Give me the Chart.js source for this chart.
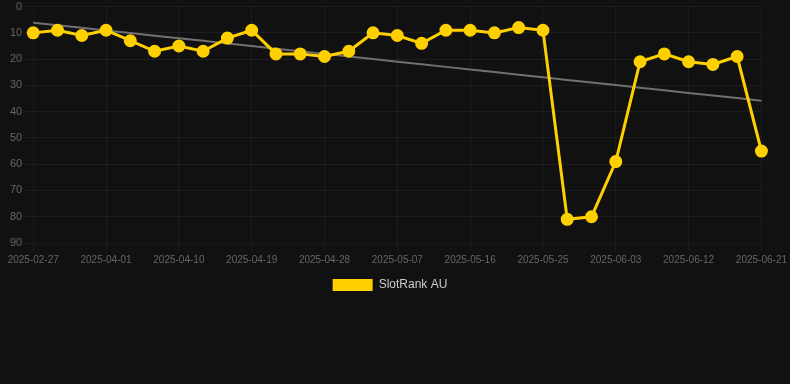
<!DOCTYPE html>
<html>
<head>
<meta charset="utf-8">
<script src="https://cdn.jsdelivr.net/npm/chart.js@4/dist/chart.umd.min.js"></script>
<style>
  html, body { margin: 0; padding: 0; background: #111111; overflow: hidden; }
  #wrap { width: 790px; height: 304px; margin-top: -3px; position: relative; }
</style>
</head>
<body>
<div id="wrap"><canvas id="rankChart"></canvas></div>
<script>
const labels = [
  "2025-02-27", "2025-03-26", "2025-03-29", "2025-04-01", "2025-04-04",
  "2025-04-07", "2025-04-10", "2025-04-13", "2025-04-16", "2025-04-19",
  "2025-04-22", "2025-04-25", "2025-04-28", "2025-05-01", "2025-05-04",
  "2025-05-07", "2025-05-10", "2025-05-13", "2025-05-16", "2025-05-19",
  "2025-05-22", "2025-05-25", "2025-05-28", "2025-05-31", "2025-06-03",
  "2025-06-06", "2025-06-09", "2025-06-12", "2025-06-15", "2025-06-18",
  "2025-06-21"
];
const ranks = [
  10, 9, 11, 9, 13, 17, 15, 17, 12, 9,
  18, 18, 19, 17, 10, 11, 14, 9, 9, 10,
  8, 9, 81, 80, 59, 21, 18, 21, 22, 19,
  55
];
const seriesName = "SlotRank AU";

// least squares trend over the ranks
function trend(values) {
  const n = values.length;
  let sx = 0, sy = 0, sxy = 0, sxx = 0;
  values.forEach((v, i) => { sx += i; sy += v; sxy += i * v; sxx += i * i; });
  const slope = (n * sxy - sx * sy) / (n * sxx - sx * sx);
  const icpt = (sy - slope * sx) / n;
  return values.map((v, i) => icpt + slope * i);
}

const ctx = document.getElementById("rankChart").getContext("2d");
new Chart(ctx, {
  type: "line",
  data: {
    labels: labels,
    datasets: [
      {
        label: seriesName,
        data: ranks,
        borderColor: "#ffd000",
        backgroundColor: "#ffd000",
        borderWidth: 3,
        pointRadius: 5,
        pointHoverRadius: 6,
        tension: 0,
      },
      {
        label: "trend",
        data: trend(ranks),
        borderColor: "#707070",
        borderWidth: 2,
        pointRadius: 0,
        tension: 0,
      },
    ],
  },
  options: {
    responsive: true,
    maintainAspectRatio: false,
    animation: false,
    layout: { padding: { left: 7, right: 17, top: 0 } },
    plugins: {
      legend: {
        position: "bottom",
        labels: {
          color: "#cccccc",
          font: { size: 12, family: "Arial, Liberation Sans, sans-serif" },
          boxWidth: 40,
          boxHeight: 12,
          filter: (item) => item.text !== "trend",
          generateLabels: (chart) =>
            Chart.defaults.plugins.legend.labels
              .generateLabels(chart)
              .map((l) => Object.assign(l, { lineWidth: 0 })),
        },
      },
      tooltip: { enabled: false },
    },
    scales: {
      x: {
        grid: { color: "rgba(255,255,255,0.05)" },
        ticks: {
          color: "#666666",
          font: { size: 10, family: "Arial, Liberation Sans, sans-serif" },
          maxRotation: 0,
          autoSkip: true,
        },
      },
      y: {
        reverse: true,
        min: 0,
        max: 90,
        grid: { color: "rgba(255,255,255,0.05)" },
        ticks: {
          stepSize: 10,
          color: "#666666",
          font: { size: 11, family: "Arial, Liberation Sans, sans-serif" },
        },
      },
    },
  },
});
</script>
</body>
</html>
